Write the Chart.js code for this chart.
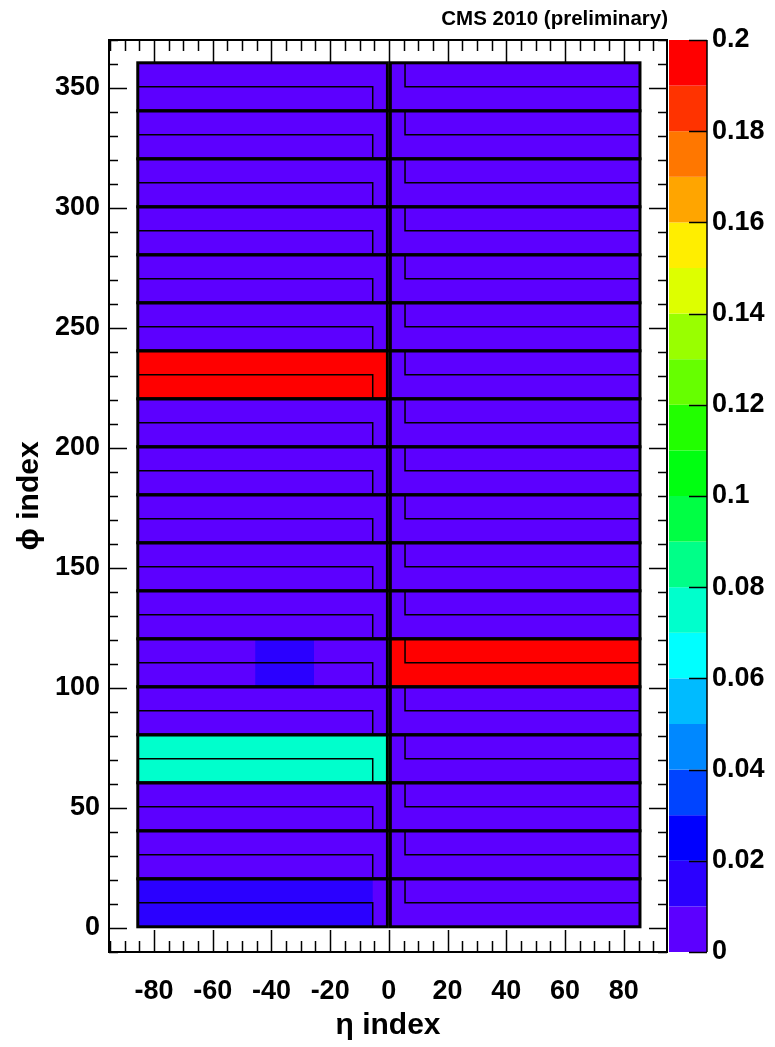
<!DOCTYPE html>
<html>
<head>
<meta charset="utf-8">
<script src="https://cdn.jsdelivr.net/npm/chart.js@4.4.0/dist/chart.umd.min.js"></script>
<style>
  html, body { margin: 0; padding: 0; background: #fff; }
  canvas { display: block; }
</style>
</head>
<body>
<canvas id="map" width="775" height="1047"></canvas>
<script>
// supermodules: 20 phi crystals each, 18 on each side of eta = 0
const smPhiLow  = [1, 21, 41, 61, 81, 101, 121, 141, 161, 181, 201, 221, 241, 261, 281, 301, 321, 341];
const smPhiHigh = [20, 40, 60, 80, 100, 120, 140, 160, 180, 200, 220, 240, 260, 280, 300, 320, 340, 360];
const etaMinus = [-85, -1];
const etaPlus = [1, 85];

// value per supermodule
const valueEtaMinus = [0.015, 0.003, 0.003, 0.075, 0.003, 0.003, 0.003, 0.003, 0.003,
                       0.003, 0.003, 0.195, 0.003, 0.003, 0.003, 0.003, 0.003, 0.003];
const valueEtaPlus  = [0.003, 0.003, 0.003, 0.003, 0.003, 0.195, 0.003, 0.003, 0.003,
                       0.003, 0.003, 0.003, 0.003, 0.003, 0.003, 0.003, 0.003, 0.003];

// smaller regions that differ from their supermodule
const patchEtaLow  = [-5, -45];
const patchEtaHigh = [-1, -26];
const patchPhiLow  = [1, 101];
const patchPhiHigh = [20, 120];
const patchValue   = [0.004, 0.015];

const xTicks = [-80, -60, -40, -20, 0, 20, 40, 60, 80];
const yTicks = [0, 50, 100, 150, 200, 250, 300, 350];
const zTicks = [0, 0.02, 0.04, 0.06, 0.08, 0.1, 0.12, 0.14, 0.16, 0.18, 0.2];

// 20 colour levels, 0 -> 0.2
const paletteColors = [
  '#5c00ff', '#2b00ff', '#0000ff', '#0044ff', '#0088ff',
  '#00bbff', '#00ffff', '#00ffcc', '#00ff88', '#00ff44',
  '#00ff11', '#22ff00', '#66ff00', '#99ff00', '#ddff00',
  '#ffee00', '#ffa500', '#ff7700', '#ff3300', '#ff0000'
];
const zMax = 0.2;

const colorFor = (v) => {
  let i = Math.floor(v / zMax * paletteColors.length);
  i = Math.max(0, Math.min(paletteColors.length - 1, i));
  return paletteColors[i];
};

// build the cell list from the arrays above
const cells = [];
smPhiLow.forEach((lo, k) => {
  cells.push({ x0: etaMinus[0] - 0.5, x1: etaMinus[1] + 0.5, y0: lo - 0.5, y1: smPhiHigh[k] + 0.5, v: valueEtaMinus[k] });
  cells.push({ x0: etaPlus[0] - 0.5, x1: etaPlus[1] + 0.5, y0: lo - 0.5, y1: smPhiHigh[k] + 0.5, v: valueEtaPlus[k] });
});
patchValue.forEach((v, i) => {
  cells.push({ x0: patchEtaLow[i] - 0.5, x1: patchEtaHigh[i] + 0.5, y0: patchPhiLow[i] - 0.5, y1: patchPhiHigh[i] + 0.5, v: v });
});

const FONT = "'Liberation Sans', Arial, sans-serif";

const heatmap = {
  id: 'heatmap',
  beforeDatasetsDraw(chart) {
    const { ctx, scales: { x, y } } = chart;
    ctx.save();
    cells.forEach(c => {
      const px0 = x.getPixelForValue(c.x0), px1 = x.getPixelForValue(c.x1);
      const py0 = y.getPixelForValue(c.y1), py1 = y.getPixelForValue(c.y0);
      ctx.fillStyle = colorFor(c.v);
      ctx.fillRect(px0, py0, px1 - px0, py1 - py0);
    });

    // inner tower lines
    ctx.strokeStyle = '#000';
    ctx.lineWidth = 1.5;
    smPhiLow.forEach((lo, k) => {
      const mid = lo + 9.5;
      ctx.beginPath();
      ctx.moveTo(x.getPixelForValue(etaMinus[0] - 0.5), y.getPixelForValue(mid));
      ctx.lineTo(x.getPixelForValue(-5.5), y.getPixelForValue(mid));
      ctx.lineTo(x.getPixelForValue(-5.5), y.getPixelForValue(lo - 0.5));
      ctx.stroke();
      ctx.beginPath();
      ctx.moveTo(x.getPixelForValue(5.5), y.getPixelForValue(smPhiHigh[k] + 0.5));
      ctx.lineTo(x.getPixelForValue(5.5), y.getPixelForValue(mid));
      ctx.lineTo(x.getPixelForValue(etaPlus[1] + 0.5), y.getPixelForValue(mid));
      ctx.stroke();
    });

    // supermodule borders
    ctx.lineWidth = 3;
    smPhiLow.forEach((lo, k) => {
      [etaMinus, etaPlus].forEach(r => {
        const px0 = x.getPixelForValue(r[0] - 0.5), px1 = x.getPixelForValue(r[1] + 0.5);
        const py0 = y.getPixelForValue(smPhiHigh[k] + 0.5), py1 = y.getPixelForValue(lo - 0.5);
        ctx.strokeRect(px0, py0, px1 - px0, py1 - py0);
      });
    });
    ctx.restore();
  },
  afterDraw(chart) {
    const { ctx, chartArea: a, scales: { x, y, z } } = chart;
    ctx.save();
    ctx.strokeStyle = '#000';

    // inward ticks, ROOT style, on all four sides
    ctx.lineWidth = 1.5;
    for (let v = Math.ceil(x.min / 5) * 5; v <= x.max; v += 5) {
      const px = Math.round(x.getPixelForValue(v)) + 0.5;
      const len = xTicks.includes(v) ? 22 : 11;
      ctx.beginPath();
      ctx.moveTo(px, a.bottom); ctx.lineTo(px, a.bottom - len);
      ctx.moveTo(px, a.top); ctx.lineTo(px, a.top + len);
      ctx.stroke();
    }
    for (let v = Math.ceil(y.min / 10) * 10; v <= y.max; v += 10) {
      const py = Math.round(y.getPixelForValue(v)) + 0.5;
      const len = yTicks.includes(v) ? 18 : 9;
      ctx.beginPath();
      ctx.moveTo(a.left, py); ctx.lineTo(a.left + len, py);
      ctx.moveTo(a.right, py); ctx.lineTo(a.right - len, py);
      ctx.stroke();
    }

    // frame
    ctx.lineWidth = 2;
    ctx.strokeRect(a.left, a.top, a.right - a.left, a.bottom - a.top);

    // colour palette
    const bx0 = a.right + 2, bx1 = a.right + 40;
    paletteColors.forEach((col, i) => {
      const y0 = z.getPixelForValue((i + 1) * zMax / paletteColors.length);
      const y1 = z.getPixelForValue(i * zMax / paletteColors.length);
      ctx.fillStyle = col;
      ctx.fillRect(bx0, y0, bx1 - bx0, y1 - y0);
    });
    ctx.lineWidth = 1.5;
    ctx.beginPath();
    ctx.moveTo(bx1, z.getPixelForValue(0)); ctx.lineTo(bx1, z.getPixelForValue(zMax));
    zTicks.forEach(v => {
      const py = Math.round(z.getPixelForValue(v)) + 0.5;
      ctx.moveTo(bx1, py); ctx.lineTo(bx1 - 18, py);
    });
    ctx.stroke();

    // header text
    ctx.fillStyle = '#000';
    ctx.font = 'bold 20.5px ' + FONT;
    ctx.textAlign = 'right';
    ctx.textBaseline = 'alphabetic';
    ctx.fillText('CMS 2010 (preliminary)', a.right + 1, 25);
    ctx.restore();
  }
};

const tickFont = { family: FONT, size: 27, weight: 'bold' };
const titleFont = { family: FONT, size: 30, weight: 'bold' };

new Chart(document.getElementById('map'), {
  type: 'scatter',
  data: { datasets: [] },
  options: {
    responsive: false,
    animation: false,
    devicePixelRatio: 1,
    layout: { autoPadding: false, padding: { top: 40, left: 0, right: 0, bottom: 0 } },
    plugins: { legend: { display: false }, tooltip: { enabled: false } },
    scales: {
      x: {
        type: 'linear', position: 'bottom', min: -95.3, max: 94.7,
        afterBuildTicks: s => { s.ticks = xTicks.map(v => ({ value: v })); },
        afterFit: s => { s.height = 95; },
        ticks: { font: tickFont, color: '#000', padding: 23, maxRotation: 0, autoSkip: false },
        grid: { display: false, drawTicks: false },
        border: { display: false },
        title: { display: true, text: 'η index', font: titleFont, color: '#000', padding: { top: 0, bottom: 3 } }
      },
      y: {
        type: 'linear', position: 'left', min: -10, max: 370,
        afterBuildTicks: s => { s.ticks = yTicks.map(v => ({ value: v })); },
        afterFit: s => { s.width = 109; },
        ticks: { font: tickFont, color: '#000', padding: 9, autoSkip: false },
        grid: { display: false, drawTicks: false },
        border: { display: false },
        title: { display: true, text: 'ϕ index', font: titleFont, color: '#000', padding: { top: 12, bottom: 0 } }
      },
      z: {
        type: 'linear', position: 'right', min: 0, max: zMax,
        afterBuildTicks: s => { s.ticks = zTicks.map(v => ({ value: v })); },
        afterFit: s => { s.width = 108; },
        ticks: { font: tickFont, color: '#000', padding: 5, autoSkip: false,
                 callback: v => String(+v.toFixed(2)) },
        // invisible tick marks just to push the labels clear of the colour bar
        grid: { display: true, drawOnChartArea: false, drawTicks: true, tickLength: 40, color: 'rgba(0,0,0,0)' },
        border: { display: false }
      }
    }
  },
  plugins: [heatmap]
});
</script>
</body>
</html>
